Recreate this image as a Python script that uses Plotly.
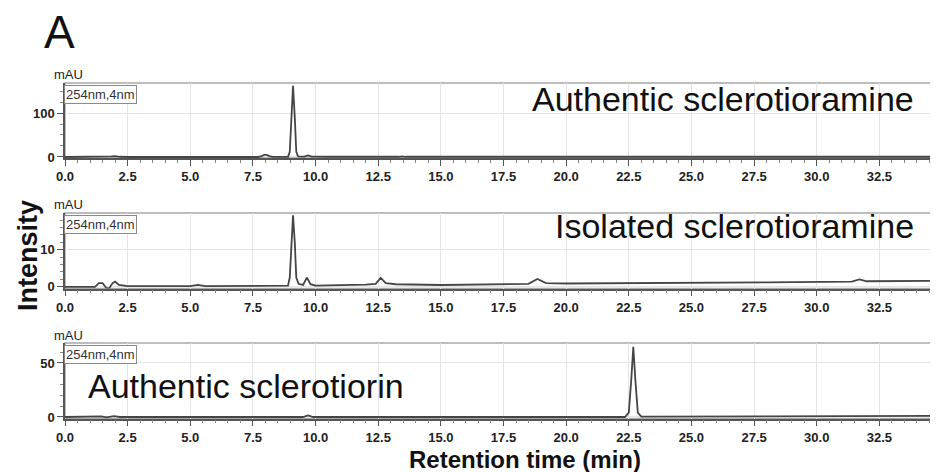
import plotly.graph_objects as go

# page body has an 8px default margin, so the figure is sized to fit the 938x472 window
OFF = 8
W, H = 938 - OFF, 472 - OFF

# ---- data ----
t_amine_auth = [0.0, 1.2, 1.35, 1.5, 1.65, 1.85, 2.0, 2.2, 2.6, 5.5, 7.7, 7.85, 7.95, 8.05, 8.15, 8.3,
                8.9, 8.97, 9.03, 9.1, 9.17, 9.23, 9.3, 9.55, 9.7, 9.85, 10.5, 11.7, 12.0, 12.3, 12.5,
                12.7, 13.3, 13.45, 13.6, 20.0, 27.8, 34.8]
v_amine_auth = [0.0, 0.0, 1.5, 1.0, 0.3, 1.5, 2.0, 0.5, 0.0, 0.0, 0.0, 2.0, 5.0, 5.0, 2.0, 0.3,
                0.5, 12.0, 90.0, 162.0, 90.0, 12.0, 1.5, 1.0, 3.5, 1.0, 0.5, 0.8, 2.0, 2.0, 1.5,
                0.5, 0.5, 1.5, 0.5, 0.3, 0.5, 0.5]

t_amine_iso = [0.0, 1.2, 1.35, 1.5, 1.65, 1.75, 1.9, 2.0, 2.15, 2.5, 5.0, 5.3, 5.6, 6.6, 6.8, 7.0,
               8.9, 8.97, 9.03, 9.1, 9.17, 9.23, 9.32, 9.5, 9.65, 9.8, 10.0, 11.5, 12.0, 12.4, 12.6,
               12.8, 13.2, 15.0, 18.5, 18.85, 19.2, 20.0, 25.0, 28.0, 31.4, 31.7, 32.0, 34.8]
v_amine_iso = [0.0, 0.0, 1.0, 1.0, -0.3, -0.5, 1.0, 1.4, 0.5, 0.2, 0.2, 0.5, 0.2, 0.2, 0.4, 0.2,
               0.3, 2.5, 12.0, 19.3, 12.0, 2.5, 0.8, 0.5, 2.5, 0.7, 0.3, 0.4, 0.6, 0.8, 2.4,
               1.0, 0.7, 0.5, 0.8, 2.1, 1.0, 0.9, 1.0, 1.2, 1.4, 2.0, 1.5, 1.6]

t_orin_auth = [0.0, 1.3, 1.45, 1.65, 1.95, 2.2, 9.5, 9.7, 9.9, 22.35, 22.5, 22.6, 22.68, 22.76,
               22.86, 23.0, 28.0, 34.8]
v_orin_auth = [0.0, 0.0, 0.6, -0.3, 0.8, 0.0, 0.0, 1.5, 0.0, 0.0, 4.0, 35.0, 65.0, 35.0,
               4.0, 0.3, 0.5, 1.0]

panel_labels = ["Authentic sclerotioramine", "Isolated sclerotioramine", "Authentic sclerotiorin"]
x_ticks = [0.0, 2.5, 5.0, 7.5, 10.0, 12.5, 15.0, 17.5, 20.0, 22.5, 25.0, 27.5, 30.0, 32.5]
y_ranges = [[-2.3, 168.2], [-0.45, 19.9], [-1.4, 68.5]]
y_major = [100, 10, 50]
y_minor = [25, 2, 10]
x_range = [0, 34.8]

# ---- layout in window pixels ----
def px_x(x):
    return (x - OFF) / W

def px_y(y):
    return 1 - (y - OFF) / H

panel_px = [(83, 158), (213, 288.5), (343, 418.5)]

fig = go.Figure()
series = [(t_amine_auth, v_amine_auth), (t_amine_iso, v_amine_iso), (t_orin_auth, v_orin_auth)]
tickfont = dict(family="Liberation Sans Narrow, Arial Narrow, Liberation Sans, Arial", size=13,
                color="#222", weight="bold")
for i, (t, v) in enumerate(series):
    xa = "x" if i == 0 else f"x{i+1}"
    ya = "y" if i == 0 else f"y{i+1}"
    fig.add_trace(go.Scatter(x=t, y=v, mode="lines", xaxis=xa, yaxis=ya,
                             line=dict(color="#454545", width=1.8), showlegend=False,
                             hoverinfo="skip"))
    top, bot = panel_px[i]
    xkey = "xaxis" if i == 0 else f"xaxis{i+1}"
    ykey = "yaxis" if i == 0 else f"yaxis{i+1}"
    fig.layout[xkey] = dict(
        domain=[px_x(65), px_x(937)], anchor=ya, range=x_range, automargin=False,
        tickmode="array", tickvals=x_ticks, ticktext=[f"{x:.1f}" for x in x_ticks],
        ticks="outside", ticklen=6, tickcolor="#555", tickwidth=1,
        showline=True, linecolor="#555", linewidth=1.5,
        showgrid=True, gridcolor="#e4e4e4", gridwidth=1, zeroline=False,
        minor=dict(dtick=0.5, tick0=0, ticks="outside", ticklen=3, tickcolor="#888", showgrid=False),
        tickfont=tickfont,
    )
    fig.layout[ykey] = dict(
        domain=[px_y(bot), px_y(top)], anchor=xa, range=y_ranges[i], automargin=False,
        dtick=y_major[i], tick0=0,
        ticks="outside", ticklen=6, tickcolor="#555", tickwidth=1,
        showline=True, linecolor="#555", linewidth=1.5,
        showgrid=True, gridcolor="#e4e4e4", gridwidth=1, zeroline=False,
        minor=dict(dtick=y_minor[i], tick0=0, ticks="outside", ticklen=3, tickcolor="#888",
                   showgrid=False),
        tickfont=tickfont,
    )
    # panel frame
    fig.add_shape(type="rect", xref=f"{xa} domain", yref=f"{ya} domain", x0=0, x1=1, y0=0, y1=1,
                  line=dict(color="#a8a8a8", width=1.5), layer="below")
    # mAU label
    fig.add_annotation(xref="paper", yref="paper", x=px_x(52), y=px_y(top - 8), text="mAU",
                       showarrow=False, xanchor="left", yanchor="middle",
                       font=dict(family="Liberation Sans, Arial", size=13, color="#222"))
    # 254nm,4nm box
    fig.add_annotation(xref="paper", yref="paper", x=px_x(64), y=px_y(top + 2), text="254nm,4nm",
                       showarrow=False, xanchor="left", yanchor="top",
                       bordercolor="#8a8a8a", borderwidth=1, borderpad=1, bgcolor="white",
                       font=dict(family="Liberation Sans Narrow, Arial Narrow, Liberation Sans, Arial",
                                 size=13, color="#333"))

# panel titles
fig.add_annotation(xref="paper", yref="paper", x=px_x(916), y=px_y(99), text=panel_labels[0],
                   showarrow=False, xanchor="right", yanchor="middle",
                   font=dict(family="Liberation Sans, Arial", size=34, color="#111"))
fig.add_annotation(xref="paper", yref="paper", x=px_x(916), y=px_y(226), text=panel_labels[1],
                   showarrow=False, xanchor="right", yanchor="middle",
                   font=dict(family="Liberation Sans, Arial", size=34, color="#111"))
fig.add_annotation(xref="paper", yref="paper", x=px_x(86), y=px_y(386), text=panel_labels[2],
                   showarrow=False, xanchor="left", yanchor="middle",
                   font=dict(family="Liberation Sans, Arial", size=34, color="#111"))

# big letter, axis titles
fig.add_annotation(xref="paper", yref="paper", x=px_x(59), y=px_y(32), text="A",
                   showarrow=False, xanchor="center", yanchor="middle",
                   font=dict(family="Liberation Sans, Arial", size=46, color="#111"))
fig.add_annotation(xref="paper", yref="paper", x=px_x(28), y=px_y(256), text="Intensity",
                   showarrow=False, xanchor="center", yanchor="middle", textangle=-90,
                   font=dict(family="Liberation Sans, Arial", size=27, color="#111", weight="bold"))
fig.add_annotation(xref="paper", yref="paper", x=px_x(525), y=px_y(459), text="Retention time (min)",
                   showarrow=False, xanchor="center", yanchor="middle",
                   font=dict(family="Liberation Sans, Arial", size=24, color="#111", weight="bold"))

fig.update_layout(width=W, height=H, margin=dict(l=0, r=0, t=0, b=0),
                  paper_bgcolor="white", plot_bgcolor="white")

fig.write_html("out.html")
